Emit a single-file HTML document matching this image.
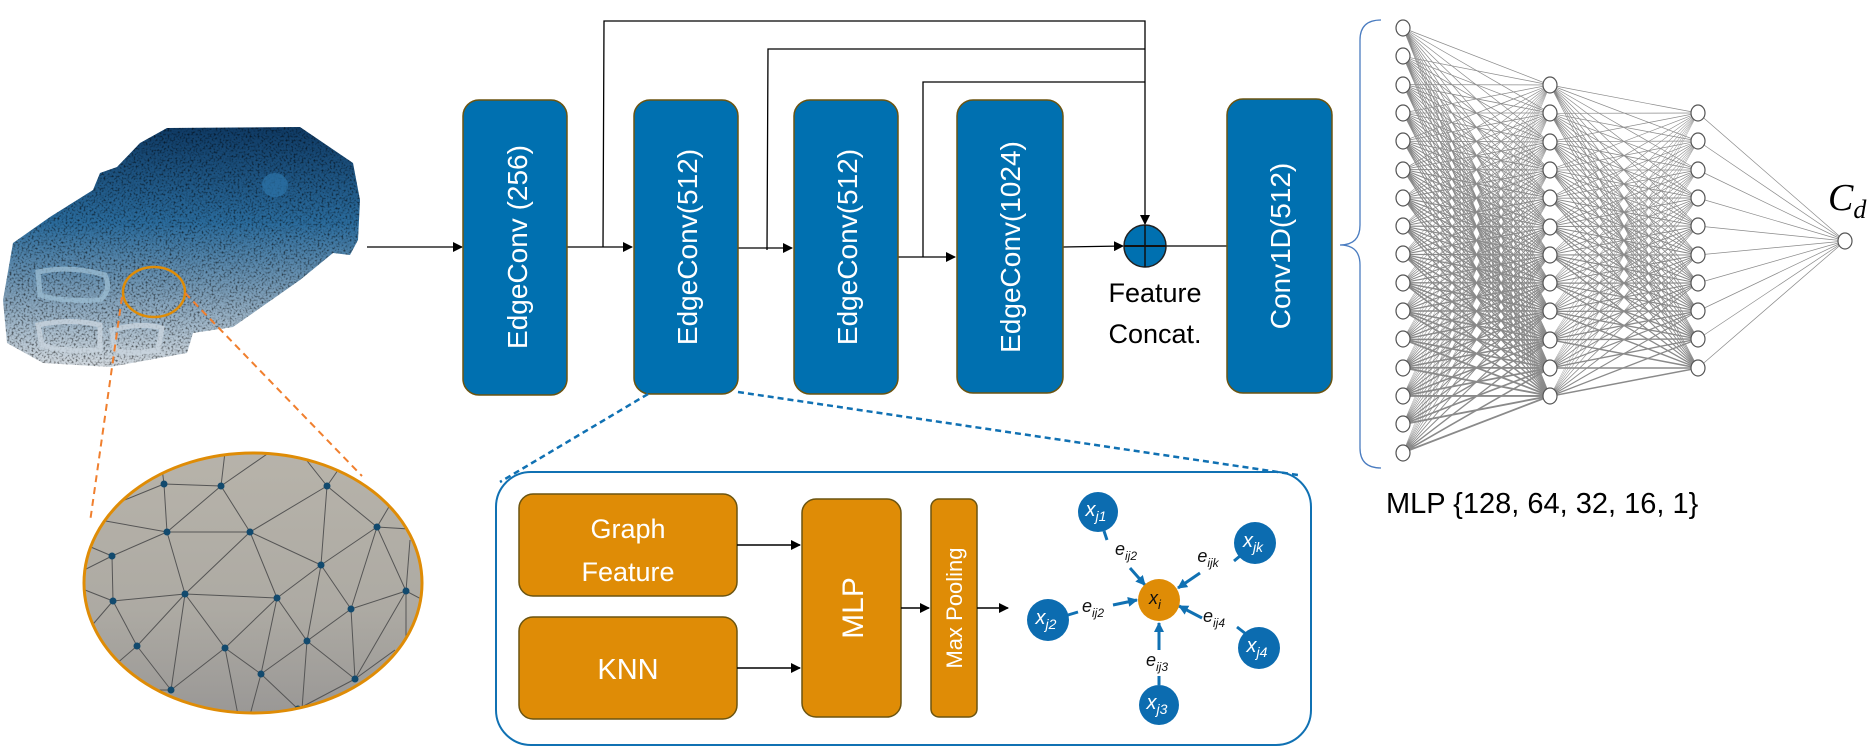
<!DOCTYPE html>
<html><head><meta charset="utf-8"><style>
html,body{margin:0;padding:0;background:#fff;width:1872px;height:753px;overflow:hidden;}
svg{display:block;position:absolute;left:0;top:0;}
text{font-family:"Liberation Sans",sans-serif;}
.m{font-family:"Liberation Serif",serif;font-style:italic;}
</style></head><body>
<svg width="1872" height="753" viewBox="0 0 1872 753" xmlns="http://www.w3.org/2000/svg">
<defs>
<marker id="ah" markerWidth="10" markerHeight="10" refX="9" refY="5" orient="auto" markerUnits="userSpaceOnUse">
<path d="M0,0 L10,5 L0,10 z" fill="#000"/></marker>
<marker id="bh" markerWidth="10" markerHeight="10" refX="9" refY="5" orient="auto" markerUnits="userSpaceOnUse">
<path d="M0,0 L10,5 L0,10 z" fill="#1071b3"/></marker>
<linearGradient id="car" x1="0" y1="0" x2="0" y2="1">
<stop offset="0" stop-color="#0f3a64"/><stop offset="0.4" stop-color="#2a6b9c"/><stop offset="0.7" stop-color="#7c9db7"/><stop offset="1" stop-color="#d3dae0"/></linearGradient>
<linearGradient id="mesh" x1="0" y1="0" x2="0" y2="1">
<stop offset="0" stop-color="#b7b3aa"/><stop offset="0.6" stop-color="#adaaa3"/><stop offset="1" stop-color="#9a9896"/></linearGradient>
<filter id="noise"><feTurbulence type="fractalNoise" baseFrequency="0.5" numOctaves="2" result="n"/>
<feColorMatrix in="n" type="matrix" values="0 0 0 0 0  0 0 0 0 0  0 0 0 0 0  0 0 0 -3 1.55" result="a"/>
<feComposite in="a" in2="SourceGraphic" operator="in"/></filter>
<clipPath id="ec"><ellipse cx="253" cy="583" rx="169" ry="130"/></clipPath>
<path id="fan1" d="M1403 28L1550 85 1403 28 1550 113 1403 28 1550 142 1403 28 1550 170 1403 28 1550 198 1403 28 1550 227 1403 28 1550 255 1403 28 1550 283 1403 28 1550 311 1403 28 1550 340 1403 28 1550 368 1403 28 1550 396"/>
<path id="fan2" d="M1550 85L1698 113 1550 85 1698 141 1550 85 1698 170 1550 85 1698 198 1550 85 1698 226 1550 85 1698 255 1550 85 1698 283 1550 85 1698 311 1550 85 1698 339 1550 85 1698 368"/>
</defs>

<path d="M140,143 L167,128 L300,127 L353,163 L360,200 L358,240 L350,255 L333,253 L300,280 L233,327 L193,333 L187,353 L110,367 L43,363 L7,343 L3,300 L13,243 L50,217 L93,190 L100,173 L117,167 Z" fill="url(#car)"/>
<path d="M140,143 L167,128 L300,127 L353,163 L360,200 L358,240 L350,255 L333,253 L300,280 L233,327 L193,333 L187,353 L110,367 L43,363 L7,343 L3,300 L13,243 L50,217 L93,190 L100,173 L117,167 Z" fill="#333" filter="url(#noise)" opacity="0.6"/>
<ellipse cx="275" cy="185" rx="13" ry="12" fill="#2c73a8" opacity="0.7"/>
<path d="M38,272 Q70,265 105,275 Q112,290 100,300 Q60,302 40,295 Z" fill="none" stroke="#9cbdd3" stroke-width="5" opacity="0.75"/>
<path d="M38,325 Q70,318 100,325 L100,350 Q60,352 42,345 Z" fill="none" stroke="#c9d5de" stroke-width="5" opacity="0.8"/>
<path d="M112,330 Q140,322 162,328 L158,350 Q130,355 115,350 Z" fill="none" stroke="#c9d5de" stroke-width="5" opacity="0.8"/>
<ellipse cx="154" cy="292" rx="31" ry="25" fill="none" stroke="#df8c06" stroke-width="2.5"/>
<line x1="122" y1="297" x2="90" y2="522" stroke="#f07f2e" stroke-width="2" stroke-dasharray="7,5"/>
<line x1="185" y1="293" x2="362" y2="476" stroke="#f07f2e" stroke-width="2" stroke-dasharray="7,5"/>

<ellipse cx="253" cy="583" rx="169" ry="130" fill="url(#mesh)"/>
<g clip-path="url(#ec)">
<path stroke="#555" stroke-width="1" fill="none" d="M164,484L221,486M164,484L167,532M221,486L167,532M221,486L250,532M250,532L327,486M327,486L321,565M327,486L377,527M167,532L250,532M167,532L112,556M167,532L185,594M250,532L185,594M250,532L277,598M250,532L321,565M321,565L377,527M377,527L351,609M377,527L406,591M321,565L277,598M321,565L307,641M321,565L351,609M112,556L113,601M113,601L185,594M113,601L137,646M185,594L137,646M185,594L225,648M185,594L171,690M185,594L277,598M277,598L225,648M277,598L307,641M277,598L261,674M351,609L406,591M351,609L307,641M351,609L355,679M406,591L355,679M137,646L171,690M225,648L171,690M225,648L261,674M225,648L238,715M261,674L307,641M261,674L298,709M261,674L250,715M307,641L355,679M307,641L302,709M355,679L298,709M164,484L160,452M164,484L100,510M221,486L225,452M221,486L270,452M327,486L300,452M327,486L345,460M377,527L390,505M377,527L425,530M112,556L86,545M112,556L84,570M113,601L85,590M113,601L88,630M406,591L423,600M406,591L410,540M137,646L115,665M171,690L150,690M355,679L395,650M406,591L406,650M167,532L100,520"/>
<g fill="#124a6e">
<circle cx="164" cy="484" r="3.5"/><circle cx="221" cy="486" r="3.5"/><circle cx="327" cy="486" r="3.5"/><circle cx="167" cy="532" r="3.5"/><circle cx="250" cy="532" r="3.5"/><circle cx="377" cy="527" r="3.5"/><circle cx="112" cy="556" r="3.5"/><circle cx="321" cy="565" r="3.5"/><circle cx="406" cy="591" r="3.5"/><circle cx="113" cy="601" r="3.5"/><circle cx="185" cy="594" r="3.5"/><circle cx="277" cy="598" r="3.5"/><circle cx="351" cy="609" r="3.5"/><circle cx="137" cy="646" r="3.5"/><circle cx="225" cy="648" r="3.5"/><circle cx="307" cy="641" r="3.5"/><circle cx="261" cy="674" r="3.5"/><circle cx="355" cy="679" r="3.5"/><circle cx="171" cy="690" r="3.5"/><circle cx="298" cy="709" r="3.5"/>
</g>
</g>
<ellipse cx="253" cy="583" rx="169" ry="130" fill="none" stroke="#df8c06" stroke-width="3"/>

<g stroke="#000" stroke-width="1.3" fill="none">
<polyline points="603,247 604,21 1145,21 1145,224" marker-end="url(#ah)"/>
<polyline points="767,250 768,49 1145,49"/>
<polyline points="923,257 923,82 1145,82"/>
<line x1="367" y1="247" x2="462" y2="247" marker-end="url(#ah)"/>
<line x1="567" y1="247" x2="632" y2="247" marker-end="url(#ah)"/>
<line x1="738" y1="248" x2="792" y2="248" marker-end="url(#ah)"/>
<line x1="898" y1="257" x2="955" y2="257" marker-end="url(#ah)"/>
<line x1="1063" y1="247" x2="1123" y2="246" marker-end="url(#ah)"/>
<line x1="1166" y1="246" x2="1227" y2="246"/>
</g>

<g fill="#0070b0" stroke="#6b5410" stroke-width="1.5">
<rect x="463" y="100" width="104" height="295" rx="16"/>
<rect x="634" y="100" width="104" height="294" rx="16"/>
<rect x="794" y="100" width="104" height="294" rx="16"/>
<rect x="957" y="100" width="106" height="293" rx="16"/>
<rect x="1227" y="99" width="105" height="294" rx="16"/>
</g>
<g fill="#fff" font-size="28" text-anchor="middle">
<text transform="translate(527,247) rotate(-90)">EdgeConv (256)</text>
<text transform="translate(697,247) rotate(-90)">EdgeConv(512)</text>
<text transform="translate(857,247) rotate(-90)">EdgeConv(512)</text>
<text transform="translate(1020,247) rotate(-90)">EdgeConv(1024)</text>
<text transform="translate(1290,246) rotate(-90)">Conv1D(512)</text>
</g>

<circle cx="1145" cy="246" r="21" fill="#0070b0" stroke="#222" stroke-width="1.5"/>
<line x1="1124" y1="246" x2="1166" y2="246" stroke="#111" stroke-width="2"/>
<line x1="1145" y1="225" x2="1145" y2="267" stroke="#111" stroke-width="1.5"/>
<text x="1155" y="302" font-size="27" text-anchor="middle">Feature</text>
<text x="1155" y="343" font-size="27" text-anchor="middle">Concat.</text>

<path d="M1381,20 Q1360,20 1360,40 L1360,225 Q1360,245 1340,245 Q1360,245 1360,265 L1360,448 Q1360,468 1381,468" fill="none" stroke="#4a7cc0" stroke-width="1.3"/>

<g stroke="#8a8a8a" stroke-width="0.7" fill="none">
<use href="#fan1"/>
<use href="#fan1" transform="matrix(1,-0.192517,0,1,0,298.40)"/>
<use href="#fan1" transform="matrix(1,-0.385034,0,1,0,596.80)"/>
<use href="#fan1" transform="matrix(1,-0.577551,0,1,0,895.20)"/>
<use href="#fan1" transform="matrix(1,-0.770068,0,1,0,1193.61)"/>
<use href="#fan1" transform="matrix(1,-0.962585,0,1,0,1492.01)"/>
<use href="#fan1" transform="matrix(1,-1.155102,0,1,0,1790.41)"/>
<use href="#fan1" transform="matrix(1,-1.347619,0,1,0,2088.81)"/>
<use href="#fan1" transform="matrix(1,-1.540136,0,1,0,2387.21)"/>
<use href="#fan1" transform="matrix(1,-1.732653,0,1,0,2685.61)"/>
<use href="#fan1" transform="matrix(1,-1.925170,0,1,0,2984.01)"/>
<use href="#fan1" transform="matrix(1,-2.117687,0,1,0,3282.41)"/>
<use href="#fan1" transform="matrix(1,-2.310204,0,1,0,3580.82)"/>
<use href="#fan1" transform="matrix(1,-2.502721,0,1,0,3879.22)"/>
<use href="#fan1" transform="matrix(1,-2.695238,0,1,0,4177.62)"/>
<use href="#fan1" transform="matrix(1,-2.887755,0,1,0,4476.02)"/>
<use href="#fan2"/>
<use href="#fan2" transform="matrix(1,-0.191216,0,1,0,324.69)"/>
<use href="#fan2" transform="matrix(1,-0.382432,0,1,0,649.37)"/>
<use href="#fan2" transform="matrix(1,-0.573649,0,1,0,974.06)"/>
<use href="#fan2" transform="matrix(1,-0.764865,0,1,0,1298.74)"/>
<use href="#fan2" transform="matrix(1,-0.956081,0,1,0,1623.43)"/>
<use href="#fan2" transform="matrix(1,-1.147297,0,1,0,1948.11)"/>
<use href="#fan2" transform="matrix(1,-1.338514,0,1,0,2272.80)"/>
<use href="#fan2" transform="matrix(1,-1.529730,0,1,0,2597.48)"/>
<use href="#fan2" transform="matrix(1,-1.720946,0,1,0,2922.17)"/>
<use href="#fan2" transform="matrix(1,-1.912162,0,1,0,3246.86)"/>
<use href="#fan2" transform="matrix(1,-2.103378,0,1,0,3571.54)"/>
<path d="M1698 113L1845 241M1698 141L1845 241M1698 170L1845 241M1698 198L1845 241M1698 226L1845 241M1698 255L1845 241M1698 283L1845 241M1698 311L1845 241M1698 339L1845 241M1698 368L1845 241"/>
</g>
<g fill="#fff" stroke="#555" stroke-width="1.2">
<ellipse cx="1403" cy="28" rx="7" ry="8"/><ellipse cx="1403" cy="56" rx="7" ry="8"/><ellipse cx="1403" cy="85" rx="7" ry="8"/><ellipse cx="1403" cy="113" rx="7" ry="8"/><ellipse cx="1403" cy="141" rx="7" ry="8"/><ellipse cx="1403" cy="170" rx="7" ry="8"/><ellipse cx="1403" cy="198" rx="7" ry="8"/><ellipse cx="1403" cy="226" rx="7" ry="8"/><ellipse cx="1403" cy="254" rx="7" ry="8"/><ellipse cx="1403" cy="283" rx="7" ry="8"/><ellipse cx="1403" cy="311" rx="7" ry="8"/><ellipse cx="1403" cy="339" rx="7" ry="8"/><ellipse cx="1403" cy="368" rx="7" ry="8"/><ellipse cx="1403" cy="396" rx="7" ry="8"/><ellipse cx="1403" cy="424" rx="7" ry="8"/><ellipse cx="1403" cy="453" rx="7" ry="8"/>
<ellipse cx="1550" cy="85" rx="7" ry="8"/><ellipse cx="1550" cy="113" rx="7" ry="8"/><ellipse cx="1550" cy="142" rx="7" ry="8"/><ellipse cx="1550" cy="170" rx="7" ry="8"/><ellipse cx="1550" cy="198" rx="7" ry="8"/><ellipse cx="1550" cy="227" rx="7" ry="8"/><ellipse cx="1550" cy="255" rx="7" ry="8"/><ellipse cx="1550" cy="283" rx="7" ry="8"/><ellipse cx="1550" cy="311" rx="7" ry="8"/><ellipse cx="1550" cy="340" rx="7" ry="8"/><ellipse cx="1550" cy="368" rx="7" ry="8"/><ellipse cx="1550" cy="396" rx="7" ry="8"/>
<ellipse cx="1698" cy="113" rx="7" ry="8"/><ellipse cx="1698" cy="141" rx="7" ry="8"/><ellipse cx="1698" cy="170" rx="7" ry="8"/><ellipse cx="1698" cy="198" rx="7" ry="8"/><ellipse cx="1698" cy="226" rx="7" ry="8"/><ellipse cx="1698" cy="255" rx="7" ry="8"/><ellipse cx="1698" cy="283" rx="7" ry="8"/><ellipse cx="1698" cy="311" rx="7" ry="8"/><ellipse cx="1698" cy="339" rx="7" ry="8"/><ellipse cx="1698" cy="368" rx="7" ry="8"/>
<ellipse cx="1845" cy="241" rx="7" ry="8"/>
</g>
<text x="1828" y="210" class="m" font-size="38">C<tspan font-size="26" dy="8">d</tspan></text>
<text x="1386" y="513" font-size="29">MLP {128, 64, 32, 16, 1}</text>

<line x1="648" y1="394" x2="500" y2="482" stroke="#1071b3" stroke-width="2.5" stroke-dasharray="6,4"/>
<line x1="738" y1="392" x2="1298" y2="475" stroke="#1071b3" stroke-width="2.5" stroke-dasharray="6,4"/>

<rect x="496" y="472" width="815" height="273" rx="35" fill="none" stroke="#1071b3" stroke-width="2"/>
<g fill="#df8c06" stroke="#6b5410" stroke-width="1.5">
<rect x="519" y="494" width="218" height="102" rx="14"/>
<rect x="519" y="617" width="218" height="102" rx="14"/>
<rect x="802" y="499" width="99" height="218" rx="14"/>
<rect x="931" y="499" width="46" height="218" rx="8"/>
</g>
<g fill="#fff" text-anchor="middle">
<text x="628" y="538" font-size="27">Graph</text>
<text x="628" y="581" font-size="27">Feature</text>
<text x="628" y="679" font-size="29">KNN</text>
<text transform="translate(863,608) rotate(-90)" font-size="30">MLP</text>
<text transform="translate(962,608) rotate(-90)" font-size="22">Max Pooling</text>
</g>
<g stroke="#000" stroke-width="1.5">
<line x1="737" y1="545" x2="800" y2="545" marker-end="url(#ah)"/>
<line x1="737" y1="668" x2="800" y2="668" marker-end="url(#ah)"/>
<line x1="901" y1="608" x2="929" y2="608" marker-end="url(#ah)"/>
<line x1="977" y1="608" x2="1008" y2="608" marker-end="url(#ah)"/>
</g>

<g stroke="#1071b3" stroke-width="3">
<line x1="1104" y1="531" x2="1107" y2="540"/>
<line x1="1130" y1="568" x2="1145" y2="585" marker-end="url(#bh)"/>
<line x1="1240" y1="556" x2="1234" y2="561"/>
<line x1="1200" y1="573" x2="1178" y2="588" marker-end="url(#bh)"/>
<line x1="1068" y1="615" x2="1078" y2="612"/>
<line x1="1113" y1="605" x2="1137" y2="600" marker-end="url(#bh)"/>
<line x1="1246" y1="634" x2="1237" y2="627"/>
<line x1="1202" y1="618" x2="1179" y2="606" marker-end="url(#bh)"/>
<line x1="1159" y1="685" x2="1159" y2="676"/>
<line x1="1159" y1="650" x2="1159" y2="623" marker-end="url(#bh)"/>
</g>
<circle cx="1159" cy="600" r="21" fill="#df8c06"/>
<g fill="#0c6cb0">
<circle cx="1098" cy="512" r="20"/><circle cx="1255" cy="543" r="21"/><circle cx="1048" cy="620" r="21"/><circle cx="1259" cy="648" r="21"/><circle cx="1159" cy="705" r="20"/>
</g>
<g class="m" font-size="20" text-anchor="middle" fill="#fff">
<text x="1096" y="516">x<tspan font-size="14" dy="5">j1</tspan></text>
<text x="1253" y="547">x<tspan font-size="14" dy="5">jk</tspan></text>
<text x="1046" y="624">x<tspan font-size="14" dy="5">j2</tspan></text>
<text x="1257" y="652">x<tspan font-size="14" dy="5">j4</tspan></text>
<text x="1157" y="709">x<tspan font-size="14" dy="5">j3</tspan></text>
</g>
<g class="m" font-size="18" text-anchor="middle" fill="#111">
<text x="1155" y="604">x<tspan font-size="13" dy="5">i</tspan></text>
<text x="1126" y="555">e<tspan font-size="12" dy="5">ij2</tspan></text>
<text x="1208" y="562">e<tspan font-size="12" dy="5">ijk</tspan></text>
<text x="1093" y="612">e<tspan font-size="12" dy="5">ij2</tspan></text>
<text x="1214" y="622">e<tspan font-size="12" dy="5">ij4</tspan></text>
<text x="1157" y="666">e<tspan font-size="12" dy="5">ij3</tspan></text>
</g>
</svg>
</body></html>
